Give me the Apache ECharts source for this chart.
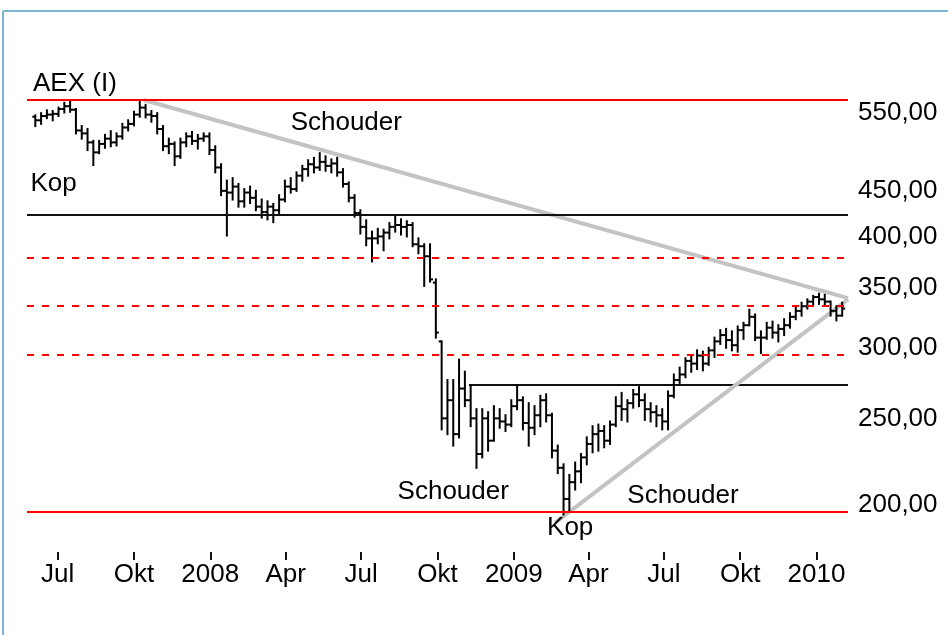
<!DOCTYPE html>
<html>
<head>
<meta charset="utf-8">
<title>AEX (I)</title>
<script src="https://cdn.jsdelivr.net/npm/echarts@6.0.0/dist/echarts.min.js"></script>
<style>
  html, body { margin: 0; padding: 0; background: #fff; }
  #chart { width: 948px; height: 635px; }
</style>
</head>
<body>
<div id="chart"></div>
<script>
// AEX weekly bars, week of 4 jun 2007 up to week of 1 feb 2010
const firstWeek = '2007-06-04';

const opens = [
  545, 540, 546, 548, 549, 556, 560, 555, 526, 522, 510, 497, 508, 515, 510, 518, 530, 535, 548, 558,
  548, 546, 528, 505, 508, 492, 510, 518, 512, 515, 518, 500, 478, 450, 448, 455, 438, 448, 442, 432,
  426, 432, 428, 440, 455, 452, 468, 476, 482, 478, 485, 480, 483, 472, 458, 442, 425, 410, 398, 398,
  400, 404, 410, 412, 410, 412, 392, 390, 380, 355, 305, 250, 262, 240, 270, 262, 250, 228, 250, 236,
  250, 248, 246, 258, 262, 247, 244, 252, 262, 252, 230, 220, 203, 212, 218, 226, 234, 240, 242, 236,
  246, 258, 256, 260, 266, 262, 256, 254, 252, 248, 265, 276, 280, 290, 288, 294, 288, 298, 305, 310,
  306, 302, 314, 318, 325, 308, 308, 316, 312, 315, 318, 325, 330, 334, 338, 342, 340, 338, 330, 326
];
const highs = [
  547, 550, 554, 553, 558, 565, 568, 556, 532, 528, 512, 512, 520, 525, 522, 535, 540, 552, 566, 562,
  553, 550, 532, 515, 510, 515, 522, 524, 520, 522, 522, 505, 482, 462, 465, 458, 452, 455, 450, 440,
  438, 435, 445, 462, 465, 472, 480, 487, 490, 496, 492, 488, 490, 476, 460, 445, 428, 417, 405, 408,
  407, 414, 421, 418, 416, 414, 398, 392, 392, 358, 305, 276, 276, 291, 282, 272, 256, 256, 254, 258,
  256, 252, 262, 272, 264, 260, 258, 265, 266, 253, 233, 222, 216, 223, 228, 238, 245, 246, 245, 248,
  264, 267, 262, 269, 271, 266, 260, 258, 256, 268, 280, 285, 292, 293, 298, 297, 300, 308, 314, 315,
  313, 317, 320, 331, 327, 313, 320, 321, 318, 323, 328, 334, 337, 340, 343, 345, 344, 338, 334, 337
];
const lows = [
  532, 535, 543, 540, 546, 551, 552, 522, 515, 500, 481, 496, 503, 505, 506, 515, 526, 533, 545, 544,
  538, 522, 500, 496, 481, 490, 505, 508, 502, 512, 495, 472, 445, 401, 440, 432, 432, 436, 428, 420,
  418, 415, 425, 438, 448, 450, 462, 468, 472, 475, 474, 472, 468, 455, 438, 421, 403, 391, 375, 393,
  386, 398, 405, 402, 400, 390, 383, 352, 356, 308, 243, 240, 233, 238, 258, 245, 220, 226, 230, 236,
  244, 242, 245, 256, 243, 233, 240, 245, 248, 226, 217, 195, 197, 208, 212, 222, 229, 230, 232, 234,
  245, 249, 248, 257, 258, 249, 248, 245, 243, 243, 264, 274, 278, 282, 284, 283, 287, 293, 303, 300,
  298, 297, 307, 318, 306, 296, 307, 308, 305, 310, 316, 323, 326, 332, 335, 336, 335, 326, 322, 326
];
const closes = [
  540, 546, 548, 549, 556, 560, 555, 526, 522, 510, 497, 508, 515, 510, 518, 530, 535, 548, 558, 548,
  546, 528, 505, 508, 492, 510, 518, 512, 515, 518, 500, 478, 450, 448, 455, 438, 448, 442, 432, 426,
  432, 428, 440, 455, 452, 468, 476, 482, 478, 485, 480, 483, 472, 458, 442, 425, 410, 398, 398, 400,
  404, 410, 412, 410, 412, 392, 390, 380, 358, 312, 250, 262, 240, 270, 262, 250, 228, 250, 236, 250,
  248, 246, 258, 262, 247, 244, 252, 262, 252, 230, 220, 203, 212, 218, 226, 234, 240, 242, 236, 246,
  258, 256, 260, 266, 262, 256, 254, 252, 248, 265, 276, 280, 290, 288, 294, 288, 298, 305, 310, 306,
  302, 314, 318, 325, 308, 308, 316, 312, 315, 318, 325, 330, 334, 338, 342, 340, 338, 330, 326, 332
];

// axis ticks
const xTickDates = ['2007-07-01', '2007-10-01', '2008-01-01', '2008-04-01', '2008-07-01', '2008-10-01',
  '2009-01-01', '2009-04-01', '2009-07-01', '2009-10-01', '2010-01-01'];
const xTickLabels = ['Jul', 'Okt', '2008', 'Apr', 'Jul', 'Okt', '2009', 'Apr', 'Jul', 'Okt', '2010'];
const yTicks = [200, 250, 300, 350, 400, 450, 550];

// drawn levels
const redLevels = [569, 196.5];
const blackLevels = [423];
const dashedLevels = [379, 334, 294.5];
const neckline = [['2008-11-08', 272.5], ['2010-02-08', 272.5]];
const upperTrend = [['2007-10-13', 569], ['2010-02-08', 341]];
const lowerTrend = [['2009-02-20', 191], ['2010-02-08', 340]];

// pattern labels
const notes = [
  ['2008-06-13', 537, 'Schouder'],
  ['2007-06-26', 458, 'Kop'],
  ['2008-10-20', 207, 'Schouder'],
  ['2009-03-10', 188.5, 'Kop'],
  ['2009-07-24', 204.5, 'Schouder']
];

// dates -> ms (local time)
function toTime(s) {
  const p = s.split('-');
  return new Date(+p[0], +p[1] - 1, +p[2]).getTime();
}
const DAY = 24 * 3600 * 1000;
const t0 = toTime(firstWeek);
const bars = opens.map(function (o, i) {
  const d = new Date(t0);
  d.setDate(d.getDate() + 7 * i);
  return [d.getTime(), opens[i], closes[i], lows[i], highs[i]];
});
function pts(list) {
  return list.map(function (p) { return [toTime(p[0]), p[1]]; });
}
const xTicks = xTickDates.map(toTime);

const font = 'Liberation Sans, Arial, sans-serif';

function levelLines(values, color, type) {
  return values.map(function (v) {
    return { yAxis: v, lineStyle: { color: color, width: 2, type: type } };
  });
}

const chart = echarts.init(document.getElementById('chart'));
const option = {
  backgroundColor: '#fff',
  animation: false,
  title: {
    text: 'AEX (I)',
    left: 28,
    top: 66,
    textStyle: { fontFamily: font, fontSize: 26, fontWeight: 'normal', color: '#000' }
  },
  graphic: [
    { type: 'line', shape: { x1: 3, y1: 11, x2: 948, y2: 11 }, style: { stroke: '#7ab8d3', lineWidth: 2 } },
    { type: 'line', shape: { x1: 3, y1: 11, x2: 3, y2: 635 }, style: { stroke: '#7ab8d3', lineWidth: 2 } }
  ],
  grid: { left: 27, right: 100, top: 60, bottom: 83 },
  xAxis: {
    type: 'value',
    min: toTime('2007-05-25'),
    max: toTime('2010-02-08'),
    axisLine: { show: false },
    splitLine: { show: false },
    axisTick: {
      show: true,
      customValues: xTicks,
      length: 8,
      lineStyle: { color: '#111', width: 2 }
    },
    axisLabel: {
      customValues: xTicks,
      margin: 10,
      fontFamily: font,
      fontSize: 26,
      color: '#000',
      formatter: function (val) {
        let k = -1;
        xTicks.forEach(function (t, j) { if (Math.abs(t - val) < DAY) k = j; });
        return k >= 0 ? xTickLabels[k] : '';
      }
    }
  },
  yAxis: {
    type: 'log',
    logBase: 10,
    position: 'right',
    min: 177,
    max: 631,
    axisLine: { show: false },
    axisTick: { show: false },
    splitLine: { show: false },
    axisLabel: {
      customValues: yTicks,
      margin: 10,
      fontFamily: font,
      fontSize: 26,
      color: '#000',
      formatter: function (v) { return Number(v).toFixed(2).replace('.', ','); }
    }
  },
  series: [
    {
      name: 'levels',
      type: 'line',
      data: [],
      z: 1,
      markLine: {
        silent: true,
        symbol: ['none', 'none'],
        label: { show: false },
        data: [].concat(
          levelLines(redLevels, '#ff0000', 'solid'),
          levelLines(blackLevels, '#111', 'solid'),
          levelLines(dashedLevels, '#ff0000', [7, 8])
        )
      }
    },
    {
      name: 'neckline',
      type: 'line',
      data: pts(neckline),
      symbol: 'none',
      z: 1,
      lineStyle: { color: '#111', width: 2 }
    },
    {
      name: 'upperTrend',
      type: 'line',
      data: pts(upperTrend),
      symbol: 'none',
      z: 2,
      lineStyle: { color: '#c3c3c3', width: 4 }
    },
    {
      name: 'lowerTrend',
      type: 'line',
      data: pts(lowerTrend),
      symbol: 'none',
      z: 2,
      lineStyle: { color: '#c3c3c3', width: 4 }
    },
    {
      name: 'AEX',
      type: 'custom',
      z: 3,
      encode: { x: 0, y: [1, 2, 3, 4] },
      data: bars,
      renderItem: function (params, api) {
        const t = api.value(0);
        const x = api.coord([t, api.value(1)])[0];
        const yo = api.coord([t, api.value(1)])[1];
        const yc = api.coord([t, api.value(2)])[1];
        const yl = api.coord([t, api.value(3)])[1];
        const yh = api.coord([t, api.value(4)])[1];
        const st = { stroke: '#000', lineWidth: 2 };
        return {
          type: 'group',
          children: [
            { type: 'line', shape: { x1: x, y1: yl + 1, x2: x, y2: yh - 1 }, style: st },
            { type: 'line', shape: { x1: x - 3, y1: yo, x2: x, y2: yo }, style: st },
            { type: 'line', shape: { x1: x, y1: yc, x2: x + 3, y2: yc }, style: st }
          ]
        };
      }
    },
    {
      name: 'notes',
      type: 'scatter',
      z: 4,
      symbolSize: 0,
      itemStyle: { color: '#000', opacity: 1 },
      data: notes.map(function (n) { return [toTime(n[0]), n[1], n[2]]; }),
      label: {
        show: true,
        position: 'inside',
        fontFamily: font,
        fontSize: 26,
        color: '#000',
        opacity: 1,
        textBorderWidth: 0,
        formatter: function (p) { return p.data[2]; }
      }
    }
  ]
};
chart.setOption(option);
</script>
</body>
</html>
